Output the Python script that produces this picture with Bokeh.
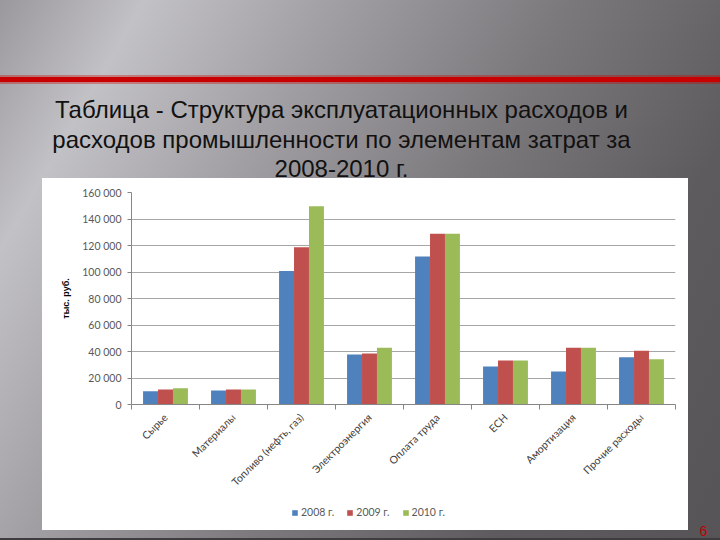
import math
from bokeh.plotting import figure
from bokeh.layouts import column
from bokeh.models import (ColumnDataSource, Range1d, LinearAxis, FixedTicker, Legend, LegendItem, Label)
from bokeh.transform import dodge
from bokeh.embed import file_html
from bokeh.resources import INLINE

# ---- data ----
categories = ["Сырье", "Материалы", "Топливо (нефть, газ)", "Электроэнергия",
              "Оплата труда", "ЕСН", "Амортизация", "Прочие расходы"]
years = ["2008 г.", "2009 г.", "2010 г."]
v2008 = [10000, 10500, 100800, 37700, 111700, 28700, 24900, 35700]
v2009 = [11300, 11300, 118700, 38500, 128800, 33200, 42800, 40500]
v2010 = [12300, 11300, 149700, 42800, 128800, 33200, 42800, 34200]
y_ticks = [0, 20000, 40000, 60000, 80000, 100000, 120000, 140000, 160000]
y_tick_labels = ["0", "20 000", "40 000", "60 000", "80 000", "100 000", "120 000", "140 000", "160 000"]
y_axis_label = "тыс. руб."
title_lines = ["Таблица - Структура эксплуатационных расходов и",
               "расходов промышленности по элементам затрат за",
               "2008-2010 г."]
slide_number = "6"
colors = ["#4F81BD", "#C0504D", "#9BBB59"]

# ---- layout constants (canvas px) ----
W, H = 720, 540
H1 = 500                      # main chart figure height; strip below holds legend + slide number
FL, FR, FT, FB = 131, 675, 192, 404
n = len(categories)
centers = [i + 0.5 for i in range(n)]


def slide_bg(dy):
    """CSS background of the slide, shifted up by dy pixels."""
    return ", ".join([
        f"linear-gradient(#c80000, #c80000) 0px {77 - dy}px / 720px 5px no-repeat",
        f"linear-gradient(rgba(200,0,0,0.35), rgba(200,0,0,0.35)) 0px {75 - dy}px / 720px 9px no-repeat",
        f"linear-gradient(#ffffff, #ffffff) 42px {178 - dy}px / 646px 352px no-repeat",
        f"linear-gradient(#3e3c3f, #3e3c3f) 0px {538 - dy}px / 720px 2px no-repeat",
        f"linear-gradient(120deg, #9a989c 0%, #c2c1c5 14%, #a2a0a4 32%, #7c797d 55%, #5e5b5f 78%, #575458 100%) "
        f"0px {-dy}px / 720px 540px no-repeat",
    ])


p = figure(width=W, height=H1, x_range=Range1d(0, n), y_range=Range1d(0, 160000),
           output_backend="svg", toolbar_location=None, x_axis_location=None, title=None,
           min_border_left=FL, min_border_right=W - FR, min_border_top=FT, min_border_bottom=H1 - FB,
           styles={"background": slide_bg(0)})
p.border_fill_color = None
p.background_fill_color = "white"
p.outline_line_color = None
p.xgrid.grid_line_color = None
p.ygrid.grid_line_color = "#a6a6a6"
p.ygrid.ticker = FixedTicker(ticks=y_ticks)

yax = p.yaxis[0]
yax.ticker = FixedTicker(ticks=y_ticks)
yax.major_label_overrides = {t: s for t, s in zip(y_ticks, y_tick_labels)}
yax.axis_line_color = "#868686"
yax.major_tick_line_color = "#868686"
yax.major_tick_in = 0
yax.major_tick_out = 4
yax.minor_tick_line_color = None
yax.major_label_text_font = "Lato"
yax.major_label_text_font_size = "10.5px"
yax.major_label_text_color = "#595959"
yax.major_label_standoff = 6
yax.axis_label = y_axis_label
yax.axis_label_text_font = "Liberation Sans"
yax.axis_label_text_font_style = "bold"
yax.axis_label_text_font_size = "9px"
yax.axis_label_text_color = "#000000"
yax.axis_label_standoff = 8

# title lines: labels in the "above" panel, stacked outward from the frame
slot_h = 27
baselines = [118, 148, 177]
for k, (line, yb) in enumerate(reversed(list(zip(title_lines, baselines)))):
    slot_bottom = FT + 9 - k * slot_h
    p.add_layout(Label(x=341 - FL, y=slot_bottom - yb, x_units="screen", y_units="screen", text=line,
                       text_align="center", text_baseline="alphabetic",
                       text_font="Liberation Sans", text_font_size="24px", text_color="#111111"),
                 "above")

# boundary ticks axis (category edges)
edge_axis = LinearAxis(ticker=FixedTicker(ticks=list(range(n + 1))),
                       major_label_overrides={i: "" for i in range(n + 1)},
                       major_tick_in=0, major_tick_out=5, minor_tick_line_color=None,
                       axis_line_color="#868686", major_tick_line_color="#868686",
                       major_label_standoff=0, major_label_text_font_size="1px")
p.add_layout(edge_axis, "below")

# category label axis
cat_axis = LinearAxis(ticker=FixedTicker(ticks=centers),
                      major_label_overrides={c: s for c, s in zip(centers, categories)},
                      axis_line_color=None, major_tick_line_color=None, minor_tick_line_color=None,
                      major_tick_in=0, major_tick_out=0,
                      major_label_orientation=math.pi / 4,
                      major_label_text_font="Lato", major_label_text_font_size="10.5px",
                      major_label_text_color="#404040", major_label_standoff=6)
p.add_layout(cat_axis, "below")

src = ColumnDataSource(dict(x=centers, v2008=v2008, v2009=v2009, v2010=v2010))
series = ["v2008", "v2009", "v2010"]
for i, (col, color) in enumerate(zip(series, colors)):
    p.vbar(x=dodge("x", (i - 1) * 0.22), top=col, width=0.22,
           source=src, fill_color=color, line_color=None)

# ---- bottom strip: legend and slide number (its frame is aligned with the chart's frame) ----
H2 = H - H1
p2 = figure(width=W, height=H2, x_range=Range1d(0, n), y_range=Range1d(-1, 0),
            output_backend="svg", toolbar_location=None, x_axis_location=None, y_axis_location=None,
            title=None, min_border=0, styles={"background": slide_bg(H1)})
p2.border_fill_color = None
p2.background_fill_color = None
p2.outline_line_color = None
p2.grid.visible = False
leg_renderers = []
for i, (col, color) in enumerate(zip(series, colors)):
    # same series; bars lie outside this strip's visible range, only their legend entries show
    r = p2.vbar(x=dodge("x", (i - 1) * 0.22), top=col, width=0.22,
                source=src, fill_color=color, line_color=None)
    leg_renderers.append(r)

legend = Legend(items=[LegendItem(label=y, renderers=[r]) for y, r in zip(years, leg_renderers)],
                orientation="horizontal", location=(291 - FL, H2 - 12 - (506 - H1)),
                border_line_color=None, background_fill_alpha=0, padding=0, margin=0,
                glyph_width=7, glyph_height=7, label_height=12, label_width=20,
                label_standoff=3, spacing=12,
                label_text_font="Lato", label_text_font_size="10.5px", label_text_color="#595959")
p2.add_layout(legend, "center")

# slide number in the strip's right panel (outside the frame, so not clipped)
p2.add_layout(Label(x=699 - FR, y=H2 - (530 - H1), x_units="screen", y_units="screen", text=slide_number,
                    text_align="left", text_baseline="alphabetic",
                    text_font="Liberation Sans", text_font_size="14px", text_color="#c00000"),
              "right")

layout = column(p, p2, spacing=0)
open("out.html", "w").write(file_html(layout, INLINE))
